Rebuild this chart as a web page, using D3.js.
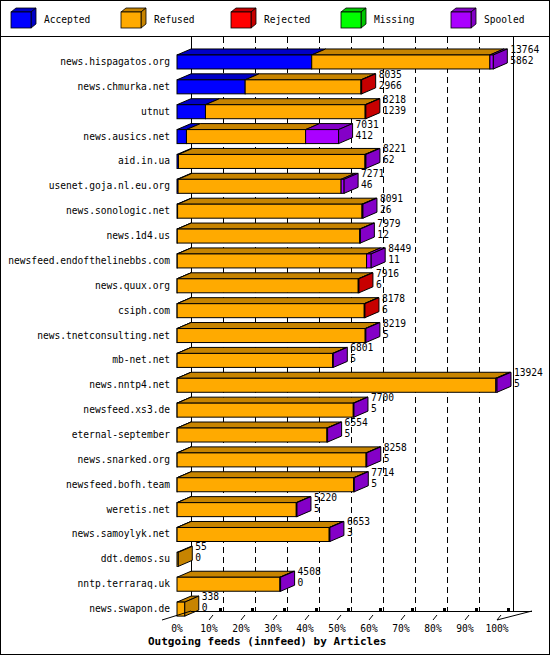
<!DOCTYPE html>
<html><head><meta charset="utf-8">
<script src="https://cdn.jsdelivr.net/npm/d3@7"></script>
<style>body{margin:0;background:#fff}svg{font-family:"DejaVu Sans Mono",monospace;font-size:9.6px}</style>
</head><body>
<svg id="chart" width="550" height="655"></svg>
<script>
const hosts = ["news.hispagatos.org","news.chmurka.net","utnut","news.ausics.net","aid.in.ua","usenet.goja.nl.eu.org","news.sonologic.net","news.1d4.us","newsfeed.endofthelinebbs.com","news.quux.org","csiph.com","news.tnetconsulting.net","mb-net.net","news.nntp4.net","newsfeed.xs3.de","eternal-september","news.snarked.org","newsfeed.bofh.team","weretis.net","news.samoylyk.net","ddt.demos.su","nntp.terraraq.uk","news.swapon.de"];
const totals = [13764,8035,8218,7031,8221,7271,8091,7979,8449,7916,8178,8219,6801,13924,7700,6554,8258,7714,5220,6653,55,4508,338];
const accepted = [5862,2966,1239,412,62,46,26,12,11,6,6,5,5,5,5,5,5,5,5,3,0,0,0];
const rejected = [0,30,30,0,0,0,0,0,0,30,30,0,0,0,0,0,0,0,0,0,0,0,0];
const missing = [0,0,0,0,0,0,0,0,0,0,0,0,0,0,0,0,0,0,0,0,0,0,0];
const spooled = [150,0,0,1435,40,130,40,30,200,0,0,30,30,50,30,30,30,30,30,30,0,30,0];
const seriesNames = ["Accepted","Refused","Rejected","Missing","Spooled"];
const seriesColors = ["#0000ff","#ffaa00","#ff0000","#00ff00","#aa00ff"];
const tickLabels = ["0%","10%","20%","30%","40%","50%","60%","70%","80%","90%","100%"];

const svg = d3.select("#chart");
const dx = 14, dy = 6, barH = 14;
const x = d3.scaleLinear().domain([0, d3.max(totals)]).range([177, 497]);
const pct = d3.scaleLinear().domain([0, 100]).range([177, 497]);
const y = d3.scaleBand().domain(hosts).range([44, 616]).paddingInner(0.4).paddingOuter(0.2);
const dark = c => d3.color(c).darker(0.7).formatHex();

svg.append("rect").attr("x",0.5).attr("y",0.5).attr("width",549).attr("height",654).attr("fill","none").attr("stroke","#000");
svg.append("line").attr("x1",0).attr("x2",550).attr("y1",36.5).attr("y2",36.5).attr("stroke","#000");

// legend
seriesNames.forEach((n,i) => {
  const lx = 11 + i*110, ly = 12;
  const g = svg.append("g").attr("stroke","#000").attr("stroke-width",0.8);
  g.append("path").attr("d",`M${lx},${ly}l5,-4h20l-5,4z`).attr("fill",dark(seriesColors[i]));
  g.append("path").attr("d",`M${lx+20},${ly}l5,-4v16l-5,4z`).attr("fill",dark(seriesColors[i]));
  g.append("rect").attr("x",lx).attr("y",ly).attr("width",20).attr("height",16).attr("fill",seriesColors[i]);
  svg.append("text").attr("x",lx+33).attr("y",ly+11).text(n);
});

// back grid
const floorY = 611;
svg.append("line").attr("x1",191.5).attr("x2",191.5).attr("y1",37).attr("y2",floorY).attr("stroke","#000");
svg.append("line").attr("x1",513.5).attr("x2",513.5).attr("y1",37).attr("y2",floorY).attr("stroke","#000");
d3.range(10,100,10).forEach(p => {
  svg.append("line").attr("x1",pct(p)+dx+0.5).attr("x2",pct(p)+dx+0.5).attr("y1",37).attr("y2",floorY)
    .attr("stroke","#000").attr("stroke-dasharray","6,4");
});

// bars
hosts.forEach((h,i) => {
  const vals = [accepted[i], totals[i]-accepted[i]-rejected[i]-missing[i]-spooled[i], rejected[i], missing[i], spooled[i]];
  const y0 = y(h) + dy;
  let cum = 0, last = 0;
  vals.forEach((v,k) => { if (v > 0) last = k; });
  const g = svg.append("g").attr("stroke","#000").attr("stroke-width",1);
  vals.forEach((v,k) => {
    if (v <= 0) return;
    const x0 = x(cum), x1 = x(cum+v);
    cum += v;
    const c = seriesColors[k];
    g.append("path").attr("d",`M${x0},${y0}l${dx},${-dy}H${x1+dx}l${-dx},${dy}z`).attr("fill",dark(c));
    g.append("rect").attr("x",x0).attr("y",y0).attr("width",x1-x0).attr("height",barH).attr("fill",c);
    if (k === last) g.append("path").attr("d",`M${x1},${y0}l${dx},${-dy}v${barH}l${-dx},${dy}z`).attr("fill",dark(c));
  });
  const ex = x(totals[i]) + dx + 3;
  svg.append("text").attr("x",ex).attr("y",y0-2).text(totals[i]);
  svg.append("text").attr("x",ex).attr("y",y0+9).text(accepted[i]);
  svg.append("text").attr("x",170).attr("y",y0+10).attr("text-anchor","end").text(h);
});

// floor / axis
svg.append("line").attr("x1",191).attr("x2",532).attr("y1",floorY+0.5).attr("y2",floorY+0.5).attr("stroke","#000");
svg.append("line").attr("x1",162).attr("x2",191).attr("y1",620).attr("y2",floorY).attr("stroke","#000");
svg.append("line").attr("x1",497).attr("x2",532).attr("y1",620).attr("y2",floorY).attr("stroke","#000");
tickLabels.forEach((t,i) => {
  const tx = pct(i*10);
  if (i > 0) {
    svg.append("line").attr("x1",tx).attr("y1",620).attr("x2",tx+4).attr("y2",615).attr("stroke","#000");
    svg.append("rect").attr("x",tx+dx-4).attr("y",floorY-3).attr("width",3).attr("height",3).attr("fill","#000");
  }
  svg.append("text").attr("x",tx).attr("y",632).attr("text-anchor","middle").text(t);
});
svg.append("text").attr("x",148).attr("y",645).attr("font-weight","bold").attr("font-size",11).text("Outgoing feeds (innfeed) by Articles");
</script>
</body></html>
